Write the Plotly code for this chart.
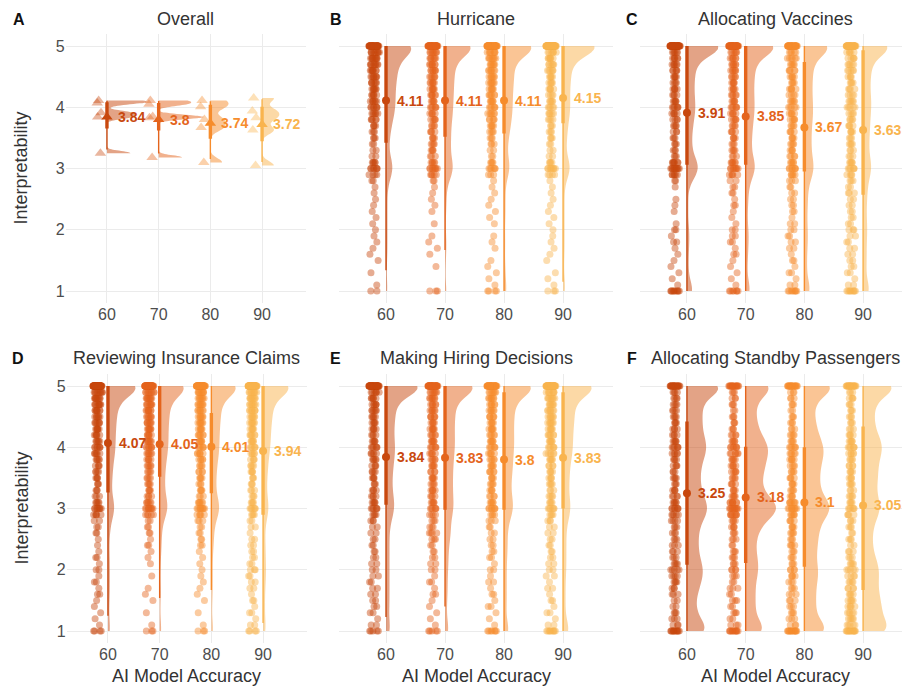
import numpy as np
import plotly.graph_objects as go

# ---------------- data ----------------
LEVELS = [1.0, 1.1, 1.2, 1.3, 1.4, 1.5, 1.6, 1.7, 1.8, 1.9,
          2.0, 2.1, 2.2, 2.3, 2.4, 2.5, 2.6, 2.7, 2.8, 2.9,
          3.0, 3.1, 3.2, 3.3, 3.4, 3.5, 3.6, 3.7, 3.8, 3.9,
          4.0, 4.1, 4.2, 4.3, 4.4, 4.5, 4.6, 4.7, 4.8, 4.9, 5.0]
ACCURACY = [60, 70, 80, 90]
ACC_TICKS = ["60", "70", "80", "90"]
Y_TICKS = [1, 2, 3, 4, 5]

# number of responses at each level (LEVELS) for accuracy 60 / 70 / 80 / 90
hurricane_counts = [
    [2, 1, 0, 1, 0, 1, 1, 1, 1, 1, 1, 1, 1, 1, 1, 1, 1, 1, 2, 4,
     7, 5, 2, 2, 2, 3, 3, 4, 5, 6, 7, 7, 6, 7, 7, 8, 8, 9, 10, 10, 50],
    [3, 0, 0, 0, 1, 0, 1, 1, 1, 1, 0, 1, 0, 1, 1, 1, 1, 1, 2, 5,
     8, 5, 3, 4, 4, 4, 4, 4, 5, 5, 6, 5, 6, 6, 6, 6, 7, 7, 7, 8, 52],
    [4, 1, 1, 1, 1, 1, 0, 1, 1, 1, 0, 1, 1, 1, 1, 1, 1, 1, 1, 3,
     6, 4, 2, 2, 3, 3, 4, 5, 5, 6, 6, 6, 6, 6, 7, 7, 7, 7, 8, 8, 58],
    [3, 1, 1, 1, 0, 1, 1, 1, 1, 1, 1, 1, 1, 1, 1, 1, 1, 1, 1, 4,
     8, 4, 2, 2, 2, 3, 3, 3, 4, 5, 5, 5, 4, 5, 5, 5, 6, 6, 7, 7, 68],
]
vaccines_counts = [
    [10, 1, 1, 1, 1, 1, 1, 1, 2, 1, 2, 1, 0, 1, 1, 1, 0, 1, 2, 6,
     11, 7, 3, 3, 3, 3, 3, 4, 4, 5, 6, 5, 4, 5, 4, 5, 5, 6, 6, 6, 62],
    [7, 1, 1, 1, 1, 1, 2, 1, 2, 2, 2, 1, 1, 1, 2, 1, 2, 2, 2, 5,
     8, 6, 3, 4, 3, 4, 4, 4, 5, 5, 6, 5, 5, 5, 5, 5, 6, 6, 6, 6, 52],
    [8, 2, 1, 2, 1, 2, 1, 2, 2, 2, 2, 2, 1, 2, 2, 2, 2, 2, 3, 5,
     7, 5, 4, 4, 4, 4, 4, 4, 5, 5, 5, 5, 4, 5, 4, 5, 5, 5, 6, 5, 40],
    [9, 2, 1, 2, 2, 2, 2, 2, 2, 2, 3, 2, 2, 2, 2, 2, 3, 2, 3, 4,
     6, 5, 3, 3, 4, 3, 4, 4, 4, 4, 5, 5, 4, 4, 4, 4, 5, 5, 5, 5, 43],
]
insurance_counts = [
    [4, 1, 1, 1, 1, 1, 2, 1, 2, 1, 2, 1, 2, 1, 1, 1, 2, 2, 2, 5,
     8, 5, 3, 3, 3, 4, 4, 4, 5, 6, 7, 6, 6, 7, 7, 7, 8, 9, 10, 10, 70],
    [3, 1, 0, 1, 0, 1, 1, 1, 0, 1, 0, 1, 1, 1, 2, 1, 2, 2, 2, 5,
     9, 6, 4, 4, 4, 4, 4, 5, 5, 6, 7, 7, 6, 7, 7, 7, 8, 8, 9, 9, 54],
    [3, 1, 0, 1, 0, 1, 1, 1, 1, 1, 1, 1, 1, 1, 2, 2, 2, 2, 3, 5,
     9, 6, 3, 4, 3, 4, 4, 4, 5, 6, 6, 6, 6, 6, 7, 7, 7, 8, 8, 9, 54],
    [4, 2, 1, 2, 1, 2, 1, 2, 2, 2, 3, 2, 2, 2, 2, 2, 1, 2, 2, 4,
     6, 4, 3, 3, 3, 3, 4, 4, 4, 5, 6, 6, 6, 6, 7, 7, 8, 8, 9, 9, 60],
]
hiring_counts = [
    [5, 2, 1, 2, 2, 2, 2, 2, 2, 2, 2, 2, 2, 2, 2, 2, 2, 2, 3, 4,
     6, 5, 4, 4, 3, 4, 4, 4, 5, 5, 6, 5, 4, 5, 5, 5, 6, 6, 6, 7, 58],
    [5, 1, 1, 1, 1, 1, 2, 1, 2, 1, 2, 2, 2, 2, 2, 3, 4, 3, 3, 4,
     6, 5, 4, 5, 4, 5, 4, 5, 5, 5, 6, 6, 5, 6, 5, 6, 6, 6, 7, 7, 48],
    [7, 1, 1, 1, 2, 1, 2, 1, 2, 1, 2, 1, 2, 2, 2, 2, 2, 2, 3, 4,
     7, 5, 4, 4, 4, 4, 5, 5, 5, 5, 6, 6, 5, 6, 5, 6, 6, 6, 7, 7, 45],
    [9, 2, 1, 2, 1, 2, 1, 2, 1, 2, 2, 2, 2, 2, 2, 2, 2, 2, 3, 4,
     6, 4, 4, 3, 4, 4, 4, 4, 5, 6, 6, 6, 6, 6, 7, 7, 7, 7, 8, 8, 52],
]
standby_counts = [
    [12, 3, 3, 3, 2, 2, 3, 3, 4, 4, 5, 4, 3, 3, 3, 3, 3, 3, 4, 5,
     7, 5, 4, 4, 3, 4, 3, 4, 4, 5, 6, 5, 4, 4, 4, 4, 4, 4, 4, 4, 24],
    [11, 3, 2, 3, 2, 3, 2, 3, 2, 3, 4, 3, 3, 3, 2, 3, 3, 4, 4, 8,
     11, 8, 5, 4, 4, 4, 5, 5, 5, 6, 7, 5, 4, 3, 3, 3, 2, 3, 3, 3, 17],
    [14, 3, 3, 3, 3, 3, 3, 3, 3, 4, 4, 3, 3, 3, 4, 3, 4, 4, 4, 6,
     9, 7, 4, 4, 4, 4, 4, 4, 5, 5, 6, 4, 4, 3, 3, 3, 2, 3, 3, 3, 20],
    [14, 5, 5, 5, 5, 5, 4, 4, 4, 4, 5, 4, 3, 3, 2, 3, 2, 3, 3, 4,
     6, 4, 4, 3, 4, 4, 4, 4, 4, 5, 6, 5, 4, 3, 3, 3, 3, 3, 4, 3, 23],
]

# printed means
hurricane_means = [4.11, 4.11, 4.11, 4.15]
vaccines_means = [3.91, 3.85, 3.67, 3.63]
insurance_means = [4.07, 4.05, 4.01, 3.94]
hiring_means = [3.84, 3.83, 3.8, 3.83]
standby_means = [3.25, 3.18, 3.1, 3.05]
overall_means = [3.84, 3.8, 3.74, 3.72]

# interval ends: 66% (thick) and 95% (thin)
hurricane_q66 = [[3.42, 5.0], [3.52, 5.0], [3.57, 5.0], [3.74, 5.0]]
hurricane_q95 = [[1.34, 5.0], [1.67, 5.0], [1.0, 5.0], [1.15, 5.0]]
vaccines_q66 = [[3.06, 5.0], [3.06, 5.0], [2.95, 4.74], [2.57, 4.93]]
vaccines_q95 = [[1.0, 5.0], [1.0, 5.0], [1.0, 5.0], [1.0, 5.0]]
insurance_q66 = [[3.26, 5.0], [3.52, 5.0], [3.25, 4.56], [2.9, 5.0]]
insurance_q95 = [[1.25, 5.0], [1.54, 5.0], [1.67, 5.0], [1.13, 5.0]]
hiring_q66 = [[3.06, 5.0], [2.98, 5.0], [2.98, 4.9], [3.0, 4.9]]
hiring_q95 = [[1.23, 5.0], [1.4, 5.0], [1.0, 5.0], [1.0, 5.0]]
standby_q66 = [[2.08, 4.42], [2.11, 4.01], [2.05, 4.0], [1.67, 4.34]]
standby_q95 = [[1.0, 5.0], [1.0, 5.0], [1.0, 5.0], [1.0, 5.0]]

# ---------------- styling ----------------
W, H = 902, 686
FONT = "Liberation Sans, Arial, sans-serif"
COLORS = ["#C8480E", "#E4641C", "#F68C2C", "#F9B44E"]
# slices of LEVELS drawn as separate point clouds so the jitter stays even
BANDS = [(0, 1), (1, 10), (10, 20), (20, 30), (30, 40), (40, 41)]


def rgba(hx, a):
    hx = hx.lstrip("#")
    r, g, b = int(hx[0:2], 16), int(hx[2:4], 16), int(hx[4:6], 16)
    return f"rgba({r},{g},{b},{a})"


def kde_max(vals, bw):
    v = np.asarray(vals, float)
    grid = np.linspace(v.min(), v.max(), 801)
    d = np.exp(-0.5 * ((grid[:, None] - v[None, :]) / bw) ** 2).sum(1) / (len(v) * bw)
    return d.max()


TOP = (33.75, 303.25)
BOT = (373.75, 643.25)
PANELS = [
    dict(letter="A", title="Overall", px=(65.6, 306.0), rng=(52, 98.5), row=TOP, lx=19),
    dict(letter="B", title="Hurricane", px=(338.8, 613.2), rng=(52, 98.5), row=TOP, lx=336),
    dict(letter="C", title="Allocating Vaccines", px=(640.0, 902.0), rng=(52, 96.63), row=TOP, lx=632),
    dict(letter="D", title="Reviewing Insurance Claims", px=(66.6, 307.0), rng=(52, 98.5), row=BOT, lx=18),
    dict(letter="E", title="Making Hiring Decisions", px=(338.8, 613.2), rng=(52, 98.5), row=BOT, lx=335),
    dict(letter="F", title="Allocating Standby Passengers", px=(640.0, 902.0), rng=(52, 96.63), row=BOT, lx=632),
]

scen_counts = [hurricane_counts, vaccines_counts, insurance_counts, hiring_counts, standby_counts]
scen_means = [hurricane_means, vaccines_means, insurance_means, hiring_means, standby_means]
scen_q66 = [hurricane_q66, vaccines_q66, insurance_q66, hiring_q66, standby_q66]
scen_q95 = [hurricane_q95, vaccines_q95, insurance_q95, hiring_q95, standby_q95]

fig = go.Figure()
annotations = []


def add_panel(k, samples, point_sets, means, q66, q95, bws, wmax, symbol, psize,
              offset, half, msize, palpha):
    xa = "x" if k == 0 else f"x{k + 1}"
    ya = "y" if k == 0 else f"y{k + 1}"
    kmax = [kde_max(s, b) for s, b in zip(samples, bws)]
    top = max(kmax)
    # density halves
    for i, g in enumerate(ACCURACY):
        c = COLORS[i]
        bd = wmax * kmax[i] / top
        fig.add_trace(go.Violin(
            y=samples[i], x0=g, xaxis=xa, yaxis=ya, side="positive",
            width=2 * bd, bandwidth=bws[i], spanmode="hard", scalemode="width",
            points=False, fillcolor=rgba(c, 0.5), line=dict(width=0, color=rgba(c, 0)),
            box=dict(visible=False), meanline=dict(visible=False),
            hoverinfo="skip", showlegend=False))
    # jittered raw points (library jitter)
    for i, g in enumerate(ACCURACY):
        c = COLORS[i]
        for pts in point_sets[i]:
            if len(pts) == 0:
                continue
            fig.add_trace(go.Violin(
                y=pts, x0=g, xaxis=xa, yaxis=ya, side="positive", width=2.0,
                bandwidth=0.1, spanmode="hard", points="all",
                pointpos=-offset, jitter=half,
                fillcolor="rgba(0,0,0,0)", line=dict(width=0, color="rgba(0,0,0,0)"),
                marker=dict(color=c, opacity=palpha, size=psize, symbol=symbol,
                            line=dict(width=0)),
                box=dict(visible=False), meanline=dict(visible=False),
                hoverinfo="skip", showlegend=False))
    # intervals, means and labels
    for i, g in enumerate(ACCURACY):
        c = COLORS[i]
        fig.add_trace(go.Scatter(x=[g, g], y=q95[i], mode="lines", xaxis=xa, yaxis=ya,
                                 line=dict(color=c, width=1.4), hoverinfo="skip", showlegend=False))
        fig.add_trace(go.Scatter(x=[g, g], y=q66[i], mode="lines", xaxis=xa, yaxis=ya,
                                 line=dict(color=c, width=3.4), hoverinfo="skip", showlegend=False))
        fig.add_trace(go.Scatter(x=[g], y=[means[i]], mode="markers", xaxis=xa, yaxis=ya,
                                 marker=dict(color=c, size=msize, symbol=symbol, line=dict(width=0)),
                                 hoverinfo="skip", showlegend=False))
        annotations.append(dict(x=g, y=means[i], xref=xa, yref=ya, text=f"<b>{means[i]:g}</b>",
                                showarrow=False, xanchor="left", yanchor="middle", xshift=9,
                                font=dict(family=FONT, size=14, color=c)))


# Overall panel: the five scenario means at each accuracy level
overall_samples = [[m[i] for m in scen_means] for i in range(4)]
overall_q66 = [list(np.quantile(s, [0.17, 0.83])) for s in overall_samples]
overall_q95 = [list(np.quantile(s, [0.025, 0.975])) for s in overall_samples]
add_panel(0, overall_samples, [[s] for s in overall_samples], overall_means,
          overall_q66, overall_q95, [0.035, 0.035, 0.07, 0.07], 8.7, "triangle-up", 10,
          1.5, 0.45, 10, 0.4)

for s in range(5):
    samples = [np.repeat(LEVELS, cnt).tolist() for cnt in scen_counts[s]]
    point_sets = [[np.repeat(LEVELS[a:b], cnt[a:b]).tolist() for a, b in BANDS]
                  for cnt in scen_counts[s]]
    add_panel(s + 1, samples, point_sets, scen_means[s], scen_q66[s], scen_q95[s],
              [0.15, 0.15, 0.15, 0.15], 5.3, "circle", 7, 2.0, 0.9, 8, 0.45)

layout = dict(width=W, height=H, margin=dict(l=0, r=0, t=0, b=0),
              paper_bgcolor="white", plot_bgcolor="white", showlegend=False,
              font=dict(family=FONT, color="#4D4D4D"))
for k, p in enumerate(PANELS):
    xn = "xaxis" if k == 0 else f"xaxis{k + 1}"
    yn = "yaxis" if k == 0 else f"yaxis{k + 1}"
    ya = "y" if k == 0 else f"y{k + 1}"
    xa = "x" if k == 0 else f"x{k + 1}"
    y0, y1 = p["row"]
    layout[xn] = dict(domain=[p["px"][0] / W, p["px"][1] / W], range=list(p["rng"]),
                      type="linear", anchor=ya, tickmode="array", tickvals=ACCURACY,
                      ticktext=ACC_TICKS, showgrid=True, gridcolor="#EBEBEB", gridwidth=1,
                      zeroline=False, showline=False, ticks="",
                      tickfont=dict(family=FONT, size=16, color="#4D4D4D"))
    layout[yn] = dict(domain=[1 - y1 / H, 1 - y0 / H], range=[0.8, 5.2], anchor=xa,
                      tickmode="array", tickvals=Y_TICKS, showgrid=True, gridcolor="#EBEBEB",
                      gridwidth=1, zeroline=False, showline=False, ticks="",
                      showticklabels=(p["letter"] in ("A", "D")),
                      tickfont=dict(family=FONT, size=16, color="#4D4D4D"))
    cx = (p["px"][0] + p["px"][1]) / 2
    if p["letter"] in ("C", "F"):
        cx = 775
    ty = 19.5 if p["row"] == TOP else 358
    annotations.append(dict(x=cx / W, y=1 - ty / H, xref="paper", yref="paper", text=p["title"],
                            showarrow=False, xanchor="center", yanchor="middle",
                            font=dict(family=FONT, size=18, color="#333333")))
    annotations.append(dict(x=p["lx"] / W, y=1 - ty / H, xref="paper", yref="paper",
                            text=f"<b>{p['letter']}</b>", showarrow=False, xanchor="center",
                            yanchor="middle", font=dict(family=FONT, size=16, color="#111111")))
    if p["letter"] in ("A", "D"):
        annotations.append(dict(x=21 / W, y=1 - ((y0 + y1) / 2) / H, xref="paper", yref="paper",
                                text="Interpretability", textangle=-90, showarrow=False,
                                xanchor="center", yanchor="middle",
                                font=dict(family=FONT, size=18, color="#333333")))
    if p["row"] == BOT:
        annotations.append(dict(x=cx / W, y=1 - 676 / H, xref="paper", yref="paper",
                                text="AI Model Accuracy", showarrow=False,
                                xanchor="center", yanchor="middle",
                                font=dict(family=FONT, size=18, color="#333333")))

layout["annotations"] = annotations
fig.update_layout(**layout)
fig.write_html("out.html", config={"displayModeBar": False},
               post_script="document.body.style.margin='0';document.body.style.overflow='hidden';")
